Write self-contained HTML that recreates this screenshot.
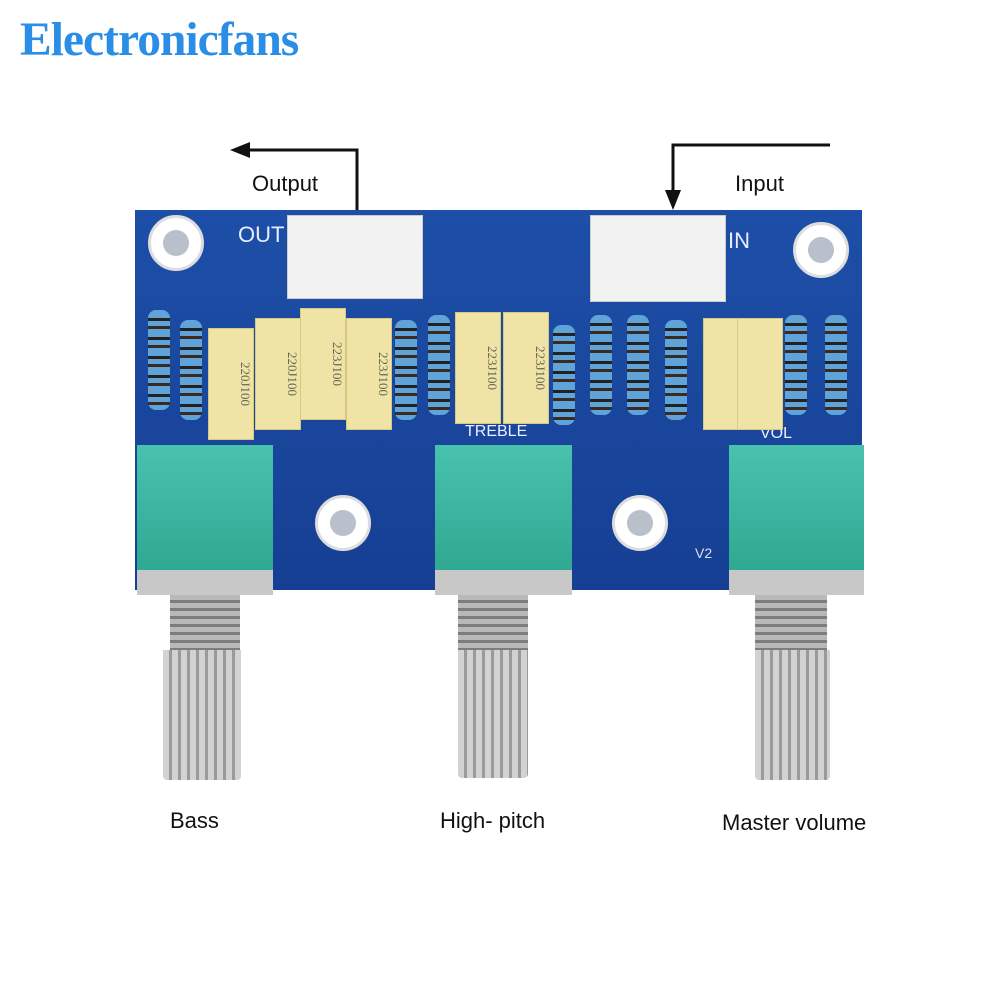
<!DOCTYPE html>
<html><head><style>
body{margin:0;width:1000px;height:1000px;background:#fff;position:relative;overflow:hidden;font-family:"Liberation Sans",sans-serif}
.a{position:absolute}
.title{left:20px;top:12px;font-family:"Liberation Serif",serif;font-weight:bold;font-size:48px;color:#2a8ee6;letter-spacing:-1px;transform:scaleX(0.99);transform-origin:left}
.lbl{font-size:22px;color:#111;font-weight:500}
.pcb{left:135px;top:210px;width:727px;height:380px;background:linear-gradient(180deg,#1d4fa8,#163f93);}
.conn{background:#f2f2f2;border:1px solid #ccc}
.res{width:22px;height:100px;background:repeating-linear-gradient(180deg,#5fa3d8 0 8px,#222 8px 11px,#5fa3d8 11px 16px,#3a2a20 16px 19px);border-radius:8px}
.cap{width:44px;height:110px;background:#efe4a6;border:1px solid #d8c980;font-family:"Liberation Serif",serif;font-size:13px;color:#665;writing-mode:vertical-rl;text-align:center}
.pot{background:linear-gradient(180deg,#48c2ad,#2fa892);}
.base{background:#c8c8c8}
.thr{background:repeating-linear-gradient(180deg,#b9b9b9 0 5px,#7d7d7d 5px 8px)}
.knurl{background:repeating-linear-gradient(90deg,#d2d2d2 0 6px,#9a9a9a 6px 9px);border-radius:0 0 4px 4px}
.hole{width:56px;height:56px;border-radius:50%;background:#fff;border:3px solid #ddd;box-sizing:border-box}
.hole::after{content:"";position:absolute;left:12px;top:12px;width:26px;height:26px;border-radius:50%;background:#b8c0cc}
</style></head><body>
<div class="a title">Electronicfans</div>

<svg class="a" style="left:0;top:0" width="1000" height="230">
<polyline points="357,215 357,150 245,150" fill="none" stroke="#111" stroke-width="3"/>
<polygon points="230,150 250,142 250,158" fill="#111"/>
<polyline points="830,145 673,145 673,195" fill="none" stroke="#111" stroke-width="3"/>
<polygon points="673,210 665,190 681,190" fill="#111"/>
</svg>
<div class="a lbl" style="left:252px;top:171px">Output</div>
<div class="a lbl" style="left:735px;top:171px">Input</div>

<div class="a pcb"></div>
<div class="a" style="left:238px;top:222px;color:#e8eefc;font-size:22px">OUT</div>
<div class="a" style="left:728px;top:228px;color:#e8eefc;font-size:22px">IN</div>
<div class="a hole" style="left:148px;top:215px"></div>
<div class="a hole" style="left:793px;top:222px"></div>
<div class="a hole" style="left:315px;top:495px"></div>
<div class="a hole" style="left:612px;top:495px"></div>
<div class="a" style="left:695px;top:545px;color:#dde;font-size:14px">V2</div>
<div class="a" style="left:465px;top:423px;color:#eef;font-size:16px">TREBLE</div>
<div class="a" style="left:760px;top:425px;color:#eef;font-size:16px">VOL</div>
<div class="a conn" style="left:287px;top:215px;width:134px;height:82px"></div>
<div class="a conn" style="left:590px;top:215px;width:134px;height:85px"></div>

<div class="a res" style="left:148px;top:310px"></div>
<div class="a res" style="left:180px;top:320px"></div>
<div class="a cap" style="left:208px;top:328px">220J100</div>
<div class="a cap" style="left:255px;top:318px">220J100</div>
<div class="a cap" style="left:300px;top:308px">223J100</div>
<div class="a cap" style="left:346px;top:318px">223J100</div>
<div class="a res" style="left:395px;top:320px"></div>
<div class="a res" style="left:428px;top:315px"></div>
<div class="a cap" style="left:455px;top:312px">223J100</div>
<div class="a cap" style="left:503px;top:312px">223J100</div>
<div class="a res" style="left:553px;top:325px"></div>
<div class="a res" style="left:590px;top:315px"></div>
<div class="a res" style="left:627px;top:315px"></div>
<div class="a res" style="left:665px;top:320px"></div>
<div class="a cap" style="left:703px;top:318px"></div>
<div class="a cap" style="left:737px;top:318px"></div>
<div class="a res" style="left:785px;top:315px"></div>
<div class="a res" style="left:825px;top:315px"></div>

<div class="a pot" style="left:137px;top:445px;width:136px;height:130px"></div>
<div class="a base" style="left:137px;top:570px;width:136px;height:25px"></div>
<div class="a thr" style="left:170px;top:595px;width:70px;height:60px"></div>
<div class="a knurl" style="left:163px;top:650px;width:78px;height:130px"></div>

<div class="a pot" style="left:435px;top:445px;width:137px;height:130px"></div>
<div class="a base" style="left:435px;top:570px;width:137px;height:25px"></div>
<div class="a thr" style="left:458px;top:595px;width:70px;height:60px"></div>
<div class="a knurl" style="left:458px;top:650px;width:70px;height:128px"></div>

<div class="a pot" style="left:729px;top:445px;width:135px;height:130px"></div>
<div class="a base" style="left:729px;top:570px;width:135px;height:25px"></div>
<div class="a thr" style="left:755px;top:595px;width:72px;height:60px"></div>
<div class="a knurl" style="left:755px;top:650px;width:75px;height:130px"></div>

<div class="a lbl" style="left:170px;top:808px">Bass</div>
<div class="a lbl" style="left:440px;top:808px">High- pitch</div>
<div class="a lbl" style="left:722px;top:810px">Master volume</div>
</body></html>
